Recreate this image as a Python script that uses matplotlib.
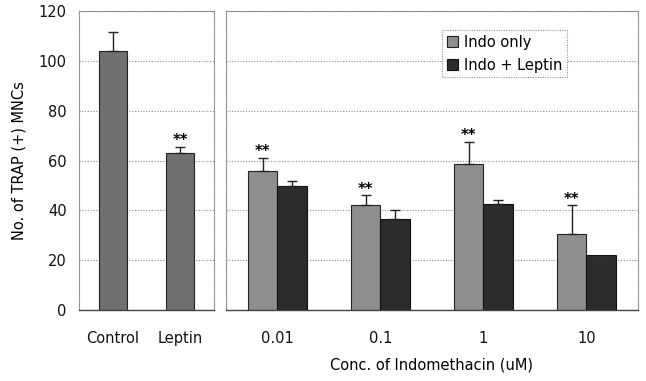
import matplotlib
matplotlib.use("Agg")
import matplotlib.pyplot as plt
import numpy as np

plt.rcParams['font.family'] = ['DejaVu Sans']

# Left panel: control vs leptin
left_labels = ["Control", "Leptin"]
left_values = [104, 63]
left_errors = [7.5, 2.5]
left_sig = [False, True]

# Right panel: indomethacin concentrations
conc_labels = ["0.01", "0.1", "1", "10"]
indo_only = [56, 42, 58.5, 30.5]
indo_only_err = [5, 4, 9, 11.5]
indo_only_sig = [True, True, True, True]
indo_leptin = [50, 36.5, 42.5, 22]
indo_leptin_err = [2, 3.5, 1.5, 0]

y_ticks = [0, 20, 40, 60, 80, 100, 120]

c_left = "#707070"
c_only = "#8e8e8e"
c_lep = "#2c2c2c"

fig = plt.figure(figsize=(6.46, 3.81), dpi=100)
axL = fig.add_axes([0.1223, 0.186, 0.209, 0.785])
axR = fig.add_axes([0.3498, 0.186, 0.6378, 0.785])

def style(ax):
    ax.set_ylim(0, 120)
    ax.set_yticks(y_ticks)
    ax.yaxis.grid(True, linestyle=(0, (1, 1.5)), color="#8a8a8a", linewidth=0.8)
    ax.set_axisbelow(True)
    for s in ["top", "right", "left"]:
        ax.spines[s].set_linestyle((0, (1, 1.2)))
        ax.spines[s].set_color("#8a8a8a")
        ax.spines[s].set_linewidth(0.8)
    ax.spines["bottom"].set_color("#444444")
    ax.spines["bottom"].set_linewidth(1.0)
    ax.tick_params(axis="both", length=0, labelsize=10.5, colors="#111111", pad=15)

style(axL)
style(axR)

# left panel bars
xl = np.arange(len(left_labels))
axL.bar(xl, left_values, width=0.42, color=c_left, edgecolor="#222222", linewidth=0.8)
axL.errorbar(xl, left_values, yerr=[np.zeros(len(xl)), left_errors], fmt="none",
             ecolor="#222222", elinewidth=1.0, capsize=3.5, capthick=1.0)
for x, v, e, s in zip(xl, left_values, left_errors, left_sig):
    if s:
        axL.text(x, v + e - 0.5, "**", ha="center", va="bottom", fontsize=10.5,
                 fontweight="bold")
axL.set_xlim(-0.5, 1.5)
axL.set_xticks(xl)
axL.set_xticklabels(left_labels)
axL.tick_params(axis="y", pad=9)
axL.set_ylabel("No. of TRAP (+) MNCs", fontsize=10.5, labelpad=9)

# right panel grouped bars
xr = np.arange(len(conc_labels))
w = 0.29
axR.bar(xr - w / 2, indo_only, width=w, color=c_only, edgecolor="#222222", linewidth=0.8,
        label="Indo only")
axR.bar(xr + w / 2, indo_leptin, width=w, color=c_lep, edgecolor="#111111", linewidth=0.8,
        label="Indo + Leptin")
axR.errorbar(xr - w / 2, indo_only, yerr=[np.zeros(len(xr)), indo_only_err], fmt="none",
             ecolor="#222222", elinewidth=1.0, capsize=3.5, capthick=1.0)
lep_has_err = [i for i, e in enumerate(indo_leptin_err) if e > 0]
axR.errorbar(xr[lep_has_err] + w / 2, np.array(indo_leptin)[lep_has_err],
             yerr=[np.zeros(len(lep_has_err)), np.array(indo_leptin_err)[lep_has_err]],
             fmt="none", ecolor="#222222", elinewidth=1.0, capsize=3.5, capthick=1.0)
for x, v, e, s in zip(xr, indo_only, indo_only_err, indo_only_sig):
    if s:
        axR.text(x - w / 2, v + e - 0.5, "**", ha="center", va="bottom", fontsize=10.5,
                 fontweight="bold")
axR.set_xlim(-0.5, 3.5)
axR.set_xticks(xr)
axR.set_xticklabels(conc_labels)
axR.tick_params(axis="y", labelleft=False)
axR.set_xlabel("Conc. of Indomethacin (uM)", fontsize=10.5, labelpad=8)

leg = axR.legend(loc="upper left", bbox_to_anchor=(0.525, 0.935), fontsize=10.5,
                 frameon=True, fancybox=False, handlelength=0.8, handleheight=0.8,
                 handletextpad=0.4, borderpad=0.3, labelspacing=0.55, borderaxespad=0)
leg.get_frame().set_edgecolor("#777777")
leg.get_frame().set_linestyle((0, (1, 1.2)))
leg.get_frame().set_linewidth(0.8)

fig.savefig("out.png", dpi=100, facecolor="white")
